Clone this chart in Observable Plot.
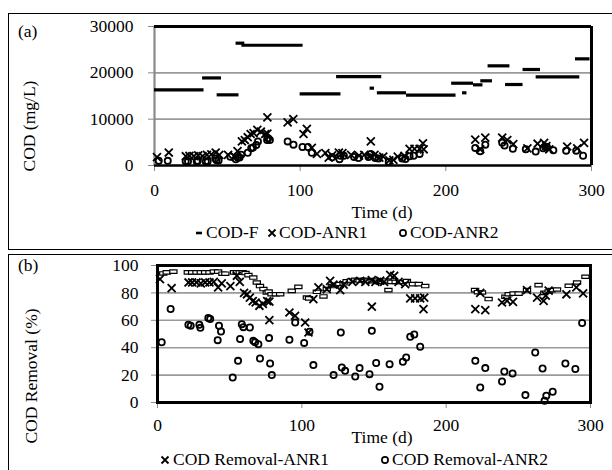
<!DOCTYPE html>
<html><head><meta charset="utf-8">
<script src="https://cdn.jsdelivr.net/npm/d3@7"></script>
<script src="https://cdn.jsdelivr.net/npm/@observablehq/plot@0.6"></script>
<style>
body{margin:0;background:#fff;font-family:"Liberation Serif","Times New Roman",serif;}
#wrap{position:relative;width:612px;height:470px;overflow:hidden;}
.box{position:absolute;border:1.5px solid #000;box-sizing:border-box;}
.txt{position:absolute;font-size:17.5px;white-space:nowrap;color:#000;line-height:1;font-weight:normal;}
.rot{position:absolute;font-size:17.5px;white-space:nowrap;line-height:1;transform:translate(-50%,-50%) rotate(-90deg);}
#wrap svg.plot{position:absolute;left:0;}
</style></head><body><div id="wrap"></div>
<script>
// ---------- data ----------
const xTicks = [0, 100, 200, 300];
const codTicks = [0, 10000, 20000, 30000];
const remTicks = [0, 20, 40, 60, 80, 100];

// COD-F (feed): runs of consecutive dash markers (start day, end day, mg/L)
const fStart = [0, 33, 43, 56, 60, 100, 125, 148, 153, 173, 204, 211.5, 219, 224, 229, 241, 253, 262, 289];
const fEnd   = [34, 46, 58, 62, 102, 128, 156, 151, 173, 207, 219, 214.5, 225.5, 232, 244, 253, 265, 292, 299];
const fValue = [16340, 18900, 15250, 26400, 25950, 15470, 19200, 16690, 15690, 15170, 17760, 15690, 17410, 18280, 21510, 17480, 20720, 19140, 23020];

// ANR1 sampling days (shared by COD-ANR1 and COD Removal-ANR1)
const anr1Day = [1.7, 9.8, 21.5, 24, 27, 30, 33, 36, 39, 42, 44.5, 50.5, 55, 57, 60, 62, 64, 66, 68, 70.6, 73, 76, 77.5, 77.5, 91.4, 95.3, 102.3, 104.6, 108, 111.5, 117.3, 119.6, 121.9, 126.6, 129, 135, 140.4, 144, 148.5, 148.5, 151, 154.3, 157, 161.2, 164, 167, 171.6, 175.1, 178.5, 182, 184.8, 184.3, 220.2, 223.6, 227.1, 238.7, 242.2, 246.3, 256, 263, 267.5, 269, 271, 283.3, 290.2, 294.9];
const anr1Cod = [1800, 2800, 2000, 2100, 2000, 2200, 2000, 2300, 2400, 2800, 2300, 2300, 1950, 3100, 5200, 5500, 6100, 6800, 7000, 7700, 7300, 6800, 6900, 10400, 9300, 10000, 6800, 7900, 3800, 2500, 2700, 1700, 2200, 2800, 2700, 2300, 2150, 2300, 2050, 5200, 2300, 1700, 1900, 1100, 1200, 1900, 2100, 3600, 3600, 3600, 3500, 4800, 5600, 3500, 6000, 6000, 5500, 4600, 3700, 4700, 4900, 4200, 3500, 4100, 3700, 4900];
const rem1Val = [90, 83.5, 87.6, 87.6, 87.6, 87, 87.6, 87.6, 88, 84, 87, 85, 92.5, 88, 80, 79, 76.6, 74, 73, 70.6, 72, 74, 73.7, 60.1, 65.7, 63.3, 58.4, 51.1, 75.5, 84, 82.8, 88.8, 86, 82, 86, 88, 88.8, 88, 89.3, 69.9, 88, 89, 88, 93.2, 92.5, 88, 86.4, 76, 76, 76, 76.6, 68.2, 68.2, 80, 67.4, 73, 74.2, 73.5, 82, 76.6, 74.2, 78, 81.6, 79, 84, 79.6];

// ANR2 sampling days (shared by COD-ANR2 and COD Removal-ANR2)
const anr2Day = [2.9, 9.1, 21.4, 23, 29, 29.7, 35.2, 36.5, 41.7, 42.6, 44, 52.1, 55.8, 57.2, 58.4, 59.5, 64, 66.4, 67.6, 69.9, 71, 77.3, 78, 79.2, 91.4, 95.4, 101.6, 105.3, 108, 122, 127, 127.7, 130, 137, 140, 146.9, 148.5, 151.5, 153.8, 160.8, 170, 172.3, 175.1, 177.9, 182, 220.2, 223.6, 227.1, 238.7, 240.3, 246, 254.9, 261.7, 266.8, 268.2, 269.4, 273.8, 282.6, 289.5, 294.2];
const anr2Cod = [1000, 1000, 900, 920, 870, 1000, 880, 900, 1500, 1150, 1100, 1880, 1360, 1670, 1700, 2340, 2760, 3740, 3900, 4400, 5200, 5500, 5900, 5500, 5200, 4500, 4000, 4000, 2760, 1760, 1370, 2100, 2080, 1860, 1600, 1820, 2500, 1640, 1500, 800, 1500, 1400, 2000, 2100, 2500, 3800, 3100, 4500, 4900, 4300, 3600, 3500, 3000, 3700, 4100, 4000, 3300, 3200, 3200, 2100];
const rem2Val = [44, 68.2, 56.7, 56, 56.7, 54.5, 61.6, 61, 45.5, 56, 51.8, 18.3, 30.4, 46.3, 57.2, 55, 54.7, 45, 44, 42.6, 32.1, 47, 28.5, 20, 45.8, 58.4, 43.5, 51.6, 27.3, 20, 51.1, 25.5, 23.1, 19, 25.1, 20.7, 52.3, 28.8, 11.5, 28, 29.7, 32.8, 48, 49.6, 40.7, 30.4, 11, 25.1, 15.3, 22.6, 21.2, 5.4, 36.5, 24.8, 1.2, 4.9, 7.8, 28.5, 24.4, 58];

// overall removal (dash markers in panel b, no legend entry)
const remTDay = [4, 6.4, 11, 21, 24, 27, 30, 33, 36, 39, 42, 45, 47, 53, 55, 57, 59, 61, 63, 66.4, 68.8, 71, 73.4, 75.7, 77, 79, 82, 85, 93, 97.6, 103.5, 105, 110.4, 115, 117.3, 120.8, 123, 126, 128.9, 131, 134, 137, 140, 143, 146, 149, 152, 155, 158, 160, 162, 165, 168, 172.8, 177, 181, 185.5, 220, 222, 224.8, 229.4, 241, 243.3, 246.7, 250.2, 256, 264, 268, 271, 273, 276.8, 284.9, 290.7, 296.5];
const remTVal = [94.2, 95, 95.5, 95, 95, 95, 95, 95, 95, 95.5, 95.5, 94, 94, 95, 95, 95, 95, 94.5, 93, 91.2, 87.6, 85, 82.8, 80.3, 81, 79, 79, 79, 81.5, 84.4, 76.6, 76, 80.8, 77.4, 82.8, 85, 86, 86.5, 87, 88.5, 89, 89.5, 89, 89.5, 89, 88.5, 89, 88, 89, 82, 88, 88, 88, 88.7, 86.4, 86.4, 85, 82, 80.5, 80.3, 75.5, 77.2, 79, 79.5, 79.5, 82, 85.7, 80, 81, 82, 82.5, 85.2, 87.6, 91.8];

// ---------- drawing ----------
const FONT = '"Liberation Serif", "Times New Roman", serif';
const wrap = document.getElementById("wrap");
const GRID = "#9a9a9a", AX = "#8a8a8a";

const dashBox = {draw(ctx) { const w = 3.6, h = 1.7; ctx.moveTo(-w, -h); ctx.lineTo(w, -h); ctx.lineTo(w, h); ctx.lineTo(-w, h); ctx.closePath(); }};

function addBox(left, top, w, h) {
  const d = document.createElement("div"); d.className = "box";
  Object.assign(d.style, {left: left + "px", top: top + "px", width: w + "px", height: h + "px"});
  wrap.appendChild(d);
}
function addText(t, left, cy, cls = "txt") {
  const d = document.createElement("div"); d.className = cls; d.textContent = t;
  if (cls === "rot") { d.style.left = left + "px"; d.style.top = cy + "px"; }
  else { d.style.left = left + "px"; d.style.top = (cy - 9) + "px"; }
  wrap.appendChild(d); return d;
}
function addMarker(kind, cx, cy) {
  const ns = "http://www.w3.org/2000/svg";
  const s = document.createElementNS(ns, "svg");
  s.setAttribute("width", 12); s.setAttribute("height", 12);
  Object.assign(s.style, {position: "absolute", left: (cx - 6) + "px", top: (cy - 6) + "px"});
  let el;
  if (kind === "dash") { el = document.createElementNS(ns, "line"); el.setAttribute("x1", 3); el.setAttribute("x2", 9); el.setAttribute("y1", 6); el.setAttribute("y2", 6); el.setAttribute("stroke-width", 2.6); }
  else if (kind === "x") { el = document.createElementNS(ns, "path"); el.setAttribute("d", "M2.5,2.5L9.5,9.5M9.5,2.5L2.5,9.5"); el.setAttribute("stroke-width", 1.8); el.setAttribute("fill", "none"); }
  else { el = document.createElementNS(ns, "circle"); el.setAttribute("cx", 6); el.setAttribute("cy", 6); el.setAttribute("r", 3.1); el.setAttribute("stroke-width", 1.7); el.setAttribute("fill", "none"); }
  el.setAttribute("stroke", "#000"); s.appendChild(el); wrap.appendChild(s);
}

addBox(8, 13, 640, 237);
addBox(8, 254, 640, 260);

const plotA = Plot.plot({
  width: 612, height: 250, marginLeft: 154, marginRight: 21, marginTop: 26, marginBottom: 85,
  x: {domain: [0, 300]}, y: {domain: [0, 30000]},
  style: {fontFamily: FONT, fontSize: "17.5px", background: "transparent", overflow: "visible"},
  marks: [
    Plot.gridY(codTicks.slice(1, 3), {stroke: GRID, strokeOpacity: 1, strokeWidth: 1.6}),
    Plot.axisY({ticks: codTicks, tickFormat: d3.format("d"), tickSize: 6, tickPadding: 15, stroke: AX, fill: "#000", label: null}),
    Plot.axisX({ticks: xTicks, tickSize: 6, tickPadding: 12, stroke: AX, fill: "#000", label: null}),
    Plot.ruleX([0], {stroke: AX, strokeWidth: 2.2}),
    Plot.ruleY(fValue, {x1: (d, i) => fStart[i], x2: (d, i) => fEnd[i], y: d => d, stroke: "#000", strokeWidth: 3.2}),
    Plot.dot(anr1Cod, {x: (d, i) => anr1Day[i], y: d => d, symbol: "times", r: 3.7, stroke: "#000", strokeWidth: 1.8}),
    Plot.dot(anr2Cod, {x: (d, i) => anr2Day[i], y: d => d, r: 3.1, stroke: "#000", strokeWidth: 1.8, fill: "none"}),
    Plot.ruleY([30000], {stroke: "#000", strokeWidth: 3}),
    Plot.ruleX([300], {stroke: "#000", strokeWidth: 3}),
    Plot.ruleY([0], {stroke: "#000", strokeWidth: 2.4})
  ]
});
plotA.classList.add("plot"); plotA.style.top = "0px";
wrap.appendChild(plotA);

const plotB = Plot.plot({
  width: 612, height: 230, marginLeft: 157, marginRight: 22, marginTop: 25, marginBottom: 68,
  x: {domain: [0, 300]}, y: {domain: [0, 100]},
  style: {fontFamily: FONT, fontSize: "17.5px", background: "transparent", overflow: "visible"},
  marks: [
    Plot.gridY(remTicks.slice(1, 5), {stroke: GRID, strokeOpacity: 1, strokeWidth: 1.6}),
    Plot.axisY({ticks: remTicks, tickSize: 6, tickPadding: 13, stroke: AX, fill: "#000", label: null}),
    Plot.axisX({ticks: xTicks, tickSize: 6, tickPadding: 10, stroke: AX, fill: "#000", label: null}),
    Plot.dot(remTVal, {x: (d, i) => remTDay[i], y: d => d, symbol: dashBox, stroke: "#000", strokeWidth: 1.2, fill: "#fff"}),
    Plot.dot(rem1Val, {x: (d, i) => anr1Day[i], y: d => d, symbol: "times", r: 3.7, stroke: "#000", strokeWidth: 1.8}),
    Plot.dot(rem2Val, {x: (d, i) => anr2Day[i], y: d => d, r: 3.1, stroke: "#000", strokeWidth: 1.8, fill: "none"}),
    Plot.frame({stroke: "#000", strokeWidth: 3})
  ]
});
plotB.classList.add("plot"); plotB.style.top = "240px";
wrap.appendChild(plotB);

// titles and labels
addText("(a)", 18, 32);
addText("(b)", 18, 266);
addText("COD (mg/L)", 30, 126, "rot");
addText("COD Removal (%)", 32, 376, "rot");
const ta = addText("Time (d)", 0, 213); ta.style.left = (382 - ta.offsetWidth / 2) + "px";
const tb = addText("Time (d)", 0, 438); tb.style.left = (382 - tb.offsetWidth / 2) + "px";

// legends
addMarker("dash", 199, 233); addText("COD-F", 206, 233);
addMarker("x", 272, 233); addText("COD-ANR1", 279, 233);
addMarker("o", 403, 233); addText("COD-ANR2", 410, 233);
addMarker("x", 165, 460); addText("COD Removal-ANR1", 173, 460);
addMarker("o", 385, 460); addText("COD Removal-ANR2", 392, 460);
</script></body></html>
